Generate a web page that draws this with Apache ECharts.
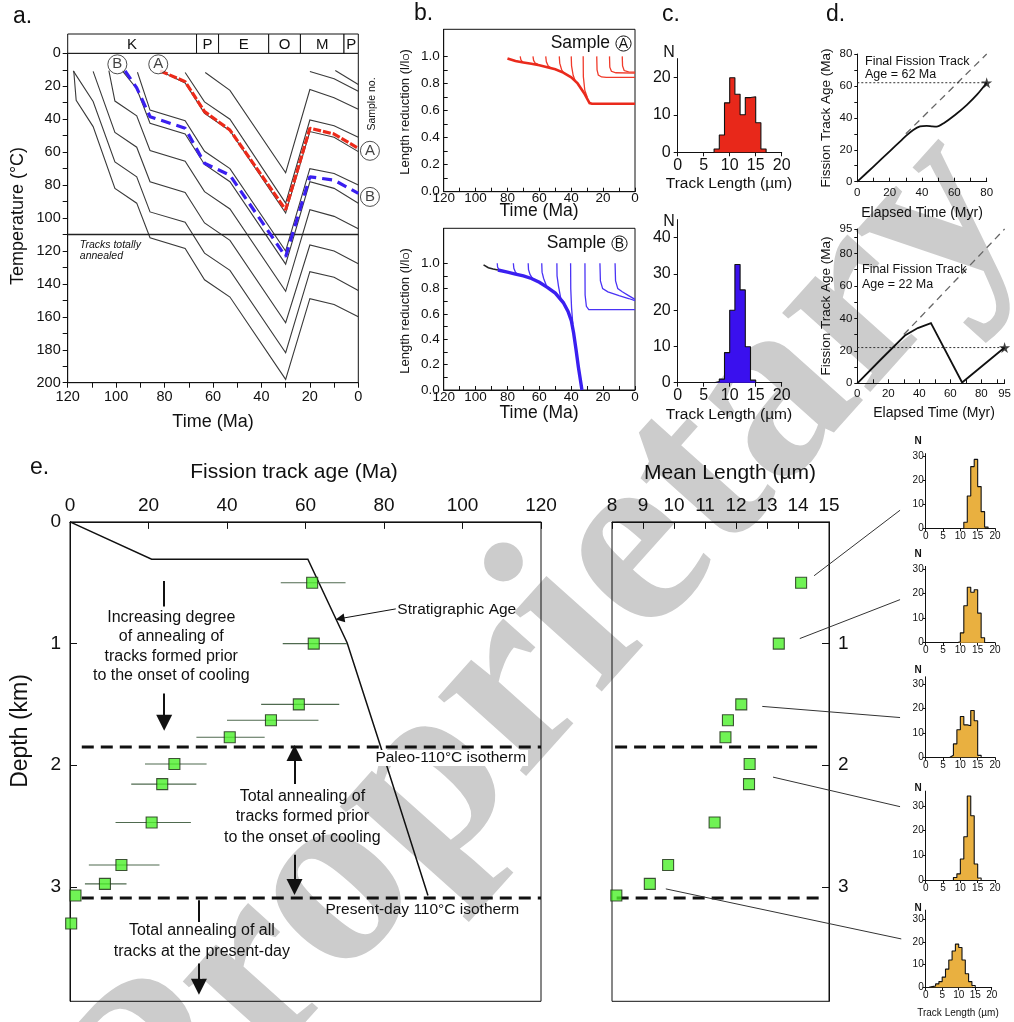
<!DOCTYPE html>
<html>
<head>
<meta charset="utf-8">
<title>Fission track thermochronology</title>
<script src="https://cdn.jsdelivr.net/npm/echarts@6/dist/echarts.min.js"></script>
<style>
  html, body { margin: 0; padding: 0; background: #ffffff; }
  #chart { width: 1014px; height: 1022px; }
</style>
</head>
<body>
<div id="chart"></div>
<script>
const FONT = '"Liberation Sans", Arial, Helvetica, sans-serif';
const SERIF = '"Liberation Serif", "DejaVu Serif", serif';
const INK = '#111111';

/* ---------- a. temperature histories of the buried strata (Ma, °C) ---------- */
const stratUnits  = ['K', 'P', 'E', 'O', 'M', 'P'];
const stratBounds = [120, 66.8, 57.7, 37.0, 23.9, 5.9, 0];
const burialPaths = [
  [[63.2,11.7],[53,22.5],[30,72.5],[20,22],[10,27],[0,34]],
  [[71.5,11.7],[63.5,29.5],[53,40],[30,91],[20,40.5],[10,44],[0,51]],
  [[81.8,10.7],[71.5,18],[63.5,36.5],[53,47],[30,97],[20,47.5],[10,51],[0,59.7]],
  [[91.2,11.5],[86,34.5],[71.5,41],[63.5,59.5],[53,70],[30,120],[20,70],[10,73],[0,80]],
  [[97.5,10.5],[91.5,21.5],[86,42.5],[71.5,49],[63.5,67.5],[53,78],[30,128],[20,78],[10,82],[0,91]],
  [[103,10.5],[100.5,29],[91.5,38],[86,59],[71.5,65.5],[63.5,84],[53,94.5],[30,144.5],[20,95],[10,99],[0,106.5]],
  [[109.5,11],[100.5,48],[91.5,57],[86,78],[71.5,84.5],[63.5,103],[53,113.6],[30,163.6],[20,116.4],[10,120],[0,127.8]],
  [[117.7,10.7],[109.5,29.3],[100.5,66],[91.5,75],[86,96.3],[71.5,102.5],[63.5,121.3],[53,131.8],[30,181.8],[20,132.6],[10,136],[0,144]],
  [[117.5,10.7],[116.5,28.5],[109.5,44.5],[100.5,82],[91.5,91],[86,112],[71.5,118.5],[63.5,137.5],[53,148],[30,198],[20,149],[10,152.5],[0,160]],
  [[20,11],[10,15.5],[0,23]],
  [[9.5,10.5],[0,19]]
];
const pathA = [[81.8,10.7],[71.5,17.2],[63.5,35.4],[53,46.6],[30,95],[20,45.5],[10,49],[0,57.7]];
const pathB = [[96.3,10.7],[91.5,21],[86,38.5],[71.5,45.5],[63.5,66.8],[53,74],[30,123.5],[20,75],[10,77],[0,85]];
const totalAnnealT = 110;
const sampleTags = [[99.5,6.7,'B'],[82.6,6.7,'A'],[-4.8,59.2,'A'],[-4.8,87.2,'B']];
const timeTicksA  = [0,10,20,30,40,50,60,70,80,90,100,110,120];
const timeLabelsA = [0,20,40,60,80,100,120];
const tempTicks   = [0,10,20,30,40,50,60,70,80,90,100,110,120,130,140,150,160,170,180,190,200];
const tempLabels  = [0,20,40,60,80,100,120,140,160,180,200];

/* ---------- b. length reduction l/l0 of track generations ---------- */
const reductionA = [[80,0.985],[75,0.965],[70,0.955],[65,0.945],[60,0.935],[55,0.92],[50,0.905],[45,0.88],[40,0.845],[36,0.8],[32,0.73],[28.5,0.655],[27,0.65],[0,0.65]];
const branchesA = [
  [[72,1.0],[71.6,0.975],[70.5,0.958]],
  [[64,1.0],[63.6,0.97],[62.6,0.95],[61,0.942]],
  [[56,1.0],[55.6,0.96],[54.5,0.93],[53,0.915]],
  [[47.5,1.0],[47.2,0.95],[46,0.9],[44.5,0.875]],
  [[40,1.0],[39.8,0.93],[38.8,0.86],[37.5,0.82]],
  [[32.5,1.0],[32.4,0.85],[31.5,0.75],[30,0.7]],
  [[24,1.0],[23.8,0.9],[23,0.862],[21,0.848],[18,0.845],[0,0.845]],
  [[16,1.0],[15.8,0.92],[14.8,0.89],[12,0.879],[0,0.876]],
  [[8,1.0],[7.8,0.93],[6.8,0.895],[4,0.886],[0,0.884]]
];
const priorB = [[95,0.987],[92,0.965],[89,0.955],[86,0.947]];
const reductionB = [[86,0.947],[80,0.93],[75,0.915],[70,0.9],[65,0.88],[60,0.85],[55,0.81],[50,0.765],[45,0.69],[42,0.62],[40,0.55],[38.5,0.45],[37,0.32],[35.5,0.18],[34,0.06],[33.3,0]];
const branchesB = [
  [[86.4,1.0],[86.2,0.97],[85.5,0.952]],
  [[76.3,1.0],[76,0.96],[75,0.93],[73.5,0.91]],
  [[67,1.0],[66.8,0.95],[65.8,0.91],[64,0.875]],
  [[58.5,1.0],[58.3,0.93],[57.3,0.88],[55.5,0.82]],
  [[49,1.0],[48.9,0.9],[48,0.82],[46.5,0.72]],
  [[40.4,1.0],[40.3,0.8],[39.8,0.65],[39,0.52]],
  [[31.4,1.0],[31.3,0.75],[30.5,0.66],[29,0.635],[0,0.635]],
  [[22,1.0],[21.7,0.86],[20.3,0.8],[17,0.775],[10,0.745],[4,0.722],[0,0.705]],
  [[12.5,1.0],[12.2,0.86],[10.8,0.8],[8,0.775],[4,0.745],[0,0.715]]
];
const lrTicks  = [0,0.1,0.2,0.3,0.4,0.5,0.6,0.7,0.8,0.9,1.0];
const lrLabels = [0,0.2,0.4,0.6,0.8,1.0];

/* ---------- c. track length distributions, samples A and B (1 µm bins) ---------- */
const histAStart = 7;
const histA = [0.9, 4.6, 13.2, 19.9, 15.5, 10.0, 14.6, 14.8, 7.9, 0.9];
const histBStart = 7;
const histB = [0.3, 1.0, 8.3, 20.0, 32.6, 25.6, 9.9, 0.7];
const lenTicksC = [0,5,10,15,20];
const nTicksCA = [0,10,20];
const nTicksCB = [0,10,20,30,40];

/* ---------- d. fission track age vs elapsed time ---------- */
const ageCurveA = [[0,0],[10,9.5],[20,19],[27.4,26.1],[31,29.5],[34.6,32.4],[38.8,34.6],[42.9,35],[46,34.7],[49.1,34.5],[53.2,36.5],[60.4,41.8],[67.6,48],[74,54.5],[80,62]];
const ageCurveB = [[0,0],[15,14.5],[30.7,29.4],[39,34],[47.5,37],[48.3,36.5],[67.6,0.5],[95,22]];
const finalAgeA = 62;
const finalAgeB = 22;
const noAnnealA = [[30,30],[80,80]];
const noAnnealB = [[30,30],[95,95]];
const elapsedTicksA = [0,10,20,30,40,50,60,70,80];
const elapsedLabelsA = [0,20,40,60,80];
const elapsedTicksB = [0,10,20,30,40,50,60,70,80,90,95];
const elapsedLabelsB = [0,20,40,60,80,95];

/* ---------- e. borehole profile: ages and mean lengths with depth ---------- */
const sampleDepth = [0.5, 1.0, 1.5, 1.63, 1.77, 1.99, 2.155, 2.47, 2.82, 2.975, 3.07, 3.30];
const ftAge       = [61.7, 62.1, 58.3, 51.2, 40.7, 26.6, 23.5, 20.8, 13.1, 8.9, 1.4, 0.3];
const ageLow      = [53.7, 54.2, 48.7, 40.0, 32.2, 19.1, 15.6, 11.6, 4.8, 3.8];
const ageHigh     = [70.2, 70.6, 68.6, 63.3, 49.6, 34.8, 32.2, 30.8, 22.8, 14.4];
const meanLength  = [14.1, 13.38, 12.17, 11.74, 11.66, 12.44, 12.42, 11.31, 9.81, 9.22, 8.14];
const stratAge    = [[0,0],[20.8,0.307],[60.6,0.307],[70.6,0.993],[79.1,1.842],[91.2,3.07]];
const paleoIso    = 1.85;
const presentIso  = 3.09;
const ageTicksE   = [0,20,40,60,80,100,120];
const depthTicks  = [0,1,2,3];
const depthLabelsR = [1,2,3];
const lenTicksE   = [8,9,10,11,12,13,14,15];

/* length distributions beside the profile (1 µm bins) */
const histD1Start = 11; const histD1 = [2.5, 13.4, 25.6, 28.6, 17.3, 6.9, 0.5];
const histD2Start = 9;  const histD2 = [0.4, 4.0, 15.0, 22.5, 20.5, 21.5, 12.0, 2.0];
const histD3Start = 7;  const histD3 = [0.8, 5.5, 11.3, 16.7, 13.3, 12.9, 19.2, 15.0, 0.8];
const histD4Start = 8;  const histD4 = [1.0, 2.5, 8.5, 17.5, 34.0, 26.0, 6.5, 0.8];
const histD5Start = 1;  const histD5 = [0.3, 0.6, 1.5, 2.5, 4.5, 8.0, 12.0, 16.0, 19.0, 17.5, 12.0, 6.0, 2.5, 0.8];
const nTicksD = [0,10,20,30];

/* ---------------- layout ---------------- */
const boxed = { show: true, borderColor: INK, borderWidth: 1, backgroundColor: 'transparent' };
const grids = [
  Object.assign({ left: 67.7, top: 53.3, width: 290.6, height: 329.4 }, boxed),   // 0 a
  { left: 67.7, top: 34, width: 290.6, height: 19.3 },                              // 1 a, stage bar
  Object.assign({ left: 443.7, top: 29.3, width: 191.3, height: 162.4 }, boxed),  // 2 b top
  Object.assign({ left: 443.7, top: 228.3, width: 191.3, height: 161.7 }, boxed), // 3 b bottom
  { left: 677.7, top: 58.6, width: 104, height: 93.7 },                             // 4 c top
  { left: 677.7, top: 219.6, width: 104, height: 163.1 },                           // 5 c bottom
  { left: 857.3, top: 54, width: 129.4, height: 127.7 },                            // 6 d top
  { left: 857.3, top: 229, width: 152.7, height: 154.3 },                           // 7 d bottom
  Object.assign({ left: 70, top: 521.9, width: 471, height: 479.4 }, boxed),      // 8 e ages
  Object.assign({ left: 612, top: 521.9, width: 217, height: 479.4 }, boxed),     // 9 e lengths
  { left: 925.7, top: 453.6, width: 69.3, height: 74.7 },                           // 10
  { left: 925.7, top: 566.4, width: 69.3, height: 76.3 },                           // 11
  { left: 925.7, top: 676.8, width: 69.3, height: 80.5 },                           // 12
  { left: 925.7, top: 791.1, width: 69.3, height: 88.9 },                           // 13
  { left: 925.7, top: 910.1, width: 66,   height: 77.2 }                            // 14
];
const histMax = [31, 31, 33, 36, 34];

function ax(g, min, max, o = {}) {
  return {
    type: 'value', gridIndex: g, min, max,
    inverse: !!o.inverse, position: o.position, show: o.show !== false,
    splitLine: { show: false },
    axisLine: { show: o.line !== false, onZero: false, lineStyle: { color: INK, width: 1 } },
    axisTick: { show: !!o.ticks, inside: !!o.inside, length: o.tickLen || 4,
                customValues: o.ticks, lineStyle: { color: INK, width: 1 } },
    axisLabel: { show: !!o.labels, customValues: o.labels, formatter: o.fmt,
                 color: INK, fontFamily: FONT, fontSize: o.fs || 14,
                 margin: o.margin === undefined ? 5 : o.margin }
  };
}

const xAxis = [
  ax(0, 0, 120, { inverse: true, ticks: timeTicksA, labels: timeLabelsA, fs: 14.5, margin: 7, tickLen: 5 }),
  ax(1, 0, 120, { inverse: true, show: false }),
  ax(2, 0, 120, { inverse: true, ticks: timeTicksA, labels: timeLabelsA, inside: true, fs: 13.5, margin: 0 }),
  ax(3, 0, 120, { inverse: true, ticks: timeTicksA, labels: timeLabelsA, inside: true, fs: 13.5, margin: 0 }),
  ax(4, 0, 20, { ticks: lenTicksC, labels: lenTicksC, fs: 16, margin: 5 }),
  ax(5, 0, 20, { ticks: lenTicksC, labels: lenTicksC, fs: 16, margin: 5 }),
  ax(6, 0, 80, { ticks: elapsedTicksA, labels: elapsedLabelsA, inside: true, fs: 11.5, margin: 5 }),
  ax(7, 0, 95, { ticks: elapsedTicksB, labels: elapsedLabelsB, inside: true, fs: 11.5, margin: 5 }),
  ax(8, 0, 120, { position: 'top', ticks: ageTicksE, labels: ageTicksE, inside: true, tickLen: 7, fs: 19, margin: 7 }),
  ax(9, 8, 15, { position: 'top', ticks: lenTicksE, labels: lenTicksE, inside: true, tickLen: 7, fs: 19, margin: 7 }),
  ax(10, 0, 20, { ticks: lenTicksC, labels: lenTicksC, fs: 10, margin: 3, tickLen: 3 }),
  ax(11, 0, 20, { ticks: lenTicksC, labels: lenTicksC, fs: 10, margin: 3, tickLen: 3 }),
  ax(12, 0, 20, { ticks: lenTicksC, labels: lenTicksC, fs: 10, margin: 3, tickLen: 3 }),
  ax(13, 0, 20, { ticks: lenTicksC, labels: lenTicksC, fs: 10, margin: 3, tickLen: 3 }),
  ax(14, 0, 20, { ticks: lenTicksC, labels: lenTicksC, fs: 10, margin: 3, tickLen: 3 })
];
const yAxis = [
  ax(0, 0, 200, { inverse: true, ticks: tempTicks, labels: tempLabels, fs: 14.5, margin: 7, tickLen: 5 }),
  ax(1, 0, 1, { show: false }),
  ax(2, 0, 1.2, { ticks: lrTicks, labels: lrLabels, inside: true, fs: 13.5, margin: 4, fmt: v => v.toFixed(1) }),
  ax(3, 0, 1.276, { ticks: lrTicks, labels: lrLabels, inside: true, fs: 13.5, margin: 4, fmt: v => v.toFixed(1) }),
  ax(4, 0, 25, { ticks: nTicksCA, labels: nTicksCA, fs: 16, margin: 7 }),
  ax(5, 0, 45, { ticks: nTicksCB, labels: nTicksCB, fs: 16, margin: 7 }),
  ax(6, 0, 80, { ticks: elapsedTicksA, labels: elapsedLabelsA, fs: 11.5, margin: 5, tickLen: 3 }),
  ax(7, 0, 95, { ticks: elapsedTicksB, labels: elapsedLabelsB, fs: 11.5, margin: 5, tickLen: 3 }),
  ax(8, 0, 3.94, { inverse: true, ticks: depthTicks, labels: depthTicks, inside: true, tickLen: 7, fs: 19, margin: 9 }),
  ax(9, 0, 3.94, { inverse: true, position: 'right', ticks: depthTicks, labels: depthLabelsR, inside: true, tickLen: 7, fs: 19, margin: 9 }),
  ax(10, 0, histMax[0], { ticks: nTicksD, labels: nTicksD, fs: 10, margin: 2, tickLen: 3 }),
  ax(11, 0, histMax[1], { ticks: nTicksD, labels: nTicksD, fs: 10, margin: 2, tickLen: 3 }),
  ax(12, 0, histMax[2], { ticks: nTicksD, labels: nTicksD, fs: 10, margin: 2, tickLen: 3 }),
  ax(13, 0, histMax[3], { ticks: nTicksD, labels: nTicksD, fs: 10, margin: 2, tickLen: 3 }),
  ax(14, 0, histMax[4], { ticks: nTicksD, labels: nTicksD, fs: 10, margin: 2, tickLen: 3 })
];

/* ---------------- series ---------------- */
const series = [];
function line(g, data, color, width, extra = {}) {
  const s = Object.assign({
    type: 'line', xAxisIndex: g, yAxisIndex: g, data, symbol: 'none', silent: true,
    animation: false, clip: false, z: 3,
    lineStyle: { color, width, type: 'solid', cap: 'butt', join: 'miter' }
  }, extra);
  if (extra.lineStyle) s.lineStyle = Object.assign({ color, width }, extra.lineStyle);
  series.push(s);
  return s;
}
function histSeries(g, start, counts, fill) {
  const pts = [[start, 0]];
  counts.forEach((c, i) => pts.push([start + i, c]));
  pts.push([start + counts.length, 0]);
  series.push({
    type: 'line', xAxisIndex: g, yAxisIndex: g, data: pts, step: 'end', symbol: 'none',
    silent: true, animation: false, z: 3,
    lineStyle: { color: INK, width: 1.1 },
    areaStyle: { color: fill, opacity: 1 }
  });
}

// a.
burialPaths.forEach(p => line(0, p, '#3a3a3a', 1.1));
line(0, [[120, totalAnnealT], [0, totalAnnealT]], '#222', 1.6);
line(0, pathA, '#ec2a1a', 3.2, { lineStyle: { type: [8, 2] }, z: 4 });
line(0, pathB, '#3a1ff0', 3.2, { lineStyle: { type: [10, 6] }, z: 4 });
series.push({
  type: 'scatter', xAxisIndex: 0, yAxisIndex: 0, data: sampleTags, clip: false,
  symbol: 'circle', symbolSize: 19, silent: true, animation: false, z: 6,
  itemStyle: { color: '#ffffff', borderColor: '#222', borderWidth: 1 },
  label: { show: true, position: 'inside', formatter: p => p.value[2],
           fontFamily: FONT, fontSize: 15, color: INK }
});
series.push({
  type: 'custom', xAxisIndex: 1, yAxisIndex: 1, silent: true, animation: false,
  data: stratUnits.map((u, i) => [stratBounds[i], stratBounds[i + 1]]),
  encode: { x: [0, 1] },
  renderItem: (params, api) => {
    const p0 = api.coord([api.value(0), 1]);
    const p1 = api.coord([api.value(1), 0]);
    const x = Math.min(p0[0], p1[0]), w = Math.abs(p1[0] - p0[0]);
    const y = Math.min(p0[1], p1[1]), h = Math.abs(p1[1] - p0[1]);
    return { type: 'group', children: [
      { type: 'rect', shape: { x, y, width: w, height: h }, style: { fill: '#fff', stroke: INK, lineWidth: 1 } },
      { type: 'text', style: { text: stratUnits[params.dataIndex], x: x + w / 2, y: y + h / 2 + 1,
        align: 'center', verticalAlign: 'middle', fontFamily: FONT, fontSize: 15, fill: INK } }
    ] };
  }
});

// b.
branchesA.forEach(p => line(2, p, '#f03a2a', 1.3));
line(2, reductionA, '#ea2a1c', 2.6);
line(3, priorB, '#222', 1.6);
branchesB.forEach(p => line(3, p, '#4a33f5', 1.3));
line(3, reductionB, '#3a1ff0', 3.4);

// c.
histSeries(4, histAStart, histA, '#e8281a');
histSeries(5, histBStart, histB, '#3a10ee');

// d.
const starPath = 'path://M50,0 L61,35 L98,35 L68,57 L79,91 L50,70 L21,91 L32,57 L2,35 L39,35 Z';
line(6, noAnnealA, '#666', 1.3, { lineStyle: { type: [7, 5] } });
line(6, [[0, finalAgeA], [80, finalAgeA]], '#333', 1, { lineStyle: { type: [2, 2] } });
line(6, ageCurveA, INK, 1.8, { smooth: 0.25 });
line(7, noAnnealB, '#666', 1.3, { lineStyle: { type: [7, 5] } });
line(7, [[0, finalAgeB], [95, finalAgeB]], '#333', 1, { lineStyle: { type: [2, 2] } });
line(7, ageCurveB, INK, 1.8);
series.push({
  type: 'scatter', xAxisIndex: 6, yAxisIndex: 6, data: [[80, finalAgeA]], symbol: starPath,
  symbolSize: 11, clip: false, silent: true, animation: false, z: 6, itemStyle: { color: INK }
});
series.push({
  type: 'scatter', xAxisIndex: 7, yAxisIndex: 7, data: [[95, finalAgeB]], symbol: starPath,
  symbolSize: 11, clip: false, silent: true, animation: false, z: 6, itemStyle: { color: INK }
});

// e. ages
const arrowStyle = { color: INK, width: 2, type: 'solid' };
line(8, stratAge, INK, 1.5, {
  markLine: {
    silent: true, animation: false, symbol: ['none', 'triangle'], symbolSize: 16,
    label: { show: false }, lineStyle: arrowStyle,
    data: [
      [{ coord: [24, 1.41] }, { coord: [24, 1.65] }],
      [{ coord: [57.2, 2.155] }, { coord: [57.2, 1.90] }],
      [{ coord: [57.2, 2.736] }, { coord: [57.2, 3.0] }],
      [{ coord: [32.85, 3.63] }, { coord: [32.85, 3.82] }],
      [{ coord: [24, 0.486], symbol: 'none' }, { coord: [24, 0.695], symbol: 'none' }],
      [{ coord: [32.85, 3.109], symbol: 'none' }, { coord: [32.85, 3.288], symbol: 'none' }],
      [{ coord: [83, 0.715], lineStyle: { width: 1 } }, { coord: [68.8, 0.795], symbolSize: 9, lineStyle: { width: 1 } }]
    ]
  }
});
const isoDash = { type: [12, 7] };
line(8, [[3, paleoIso], [120, paleoIso]], INK, 3, { lineStyle: isoDash, z: 4 });
line(8, [[3, presentIso], [120, presentIso]], INK, 3, { lineStyle: isoDash, z: 4 });
series.push({
  type: 'custom', xAxisIndex: 8, yAxisIndex: 8, silent: true, animation: false, z: 5,
  data: ageLow.map((lo, i) => [lo, ageHigh[i], sampleDepth[i]]),
  encode: { x: [0, 1], y: 2 },
  renderItem: (params, api) => {
    const a = api.coord([api.value(0), api.value(2)]);
    const b = api.coord([api.value(1), api.value(2)]);
    return { type: 'line', shape: { x1: a[0], y1: a[1], x2: b[0], y2: b[1] },
             style: { stroke: '#4f6a4f', lineWidth: 1.1 } };
  }
});
const squareStyle = { color: '#4cf02a', borderColor: '#1c2a14', borderWidth: 1.1 };
series.push({
  type: 'scatter', xAxisIndex: 8, yAxisIndex: 8, data: ftAge.map((a, i) => [a, sampleDepth[i]]),
  symbol: 'rect', symbolSize: 11, clip: false, silent: true, animation: false, z: 7, itemStyle: squareStyle
});

// e. mean lengths
line(9, [[8.1, paleoIso], [14.75, paleoIso]], INK, 3, { lineStyle: isoDash, z: 4 });
line(9, [[8.15, presentIso], [14.75, presentIso]], INK, 3, { lineStyle: isoDash, z: 4 });
series.push({
  type: 'scatter', xAxisIndex: 9, yAxisIndex: 9, data: meanLength.map((m, i) => [m, sampleDepth[i]]),
  symbol: 'rect', symbolSize: 11, clip: false, silent: true, animation: false, z: 7, itemStyle: squareStyle
});

// length distributions beside the profile
const orange = '#e9b040';
histSeries(10, histD1Start, histD1, orange);
histSeries(11, histD2Start, histD2, orange);
histSeries(12, histD3Start, histD3, orange);
histSeries(13, histD4Start, histD4, orange);
histSeries(14, histD5Start, histD5, orange);

const chart = echarts.init(document.getElementById('chart'), null, { renderer: 'canvas', width: 1014, height: 1022 });
chart.setOption({ animation: false, grid: grids, xAxis, yAxis, series });

/* ---------------- text and connectors ---------------- */
const px = (g, v) => chart.convertToPixel({ gridIndex: g }, v);
function txt(text, x, y, o = {}) {
  return {
    type: 'text', x, y, rotation: o.rot || 0, z: 50, silent: true,
    style: {
      text, fill: o.color || INK, fontFamily: o.family || FONT, fontSize: o.fs || 14,
      fontStyle: o.italic ? 'italic' : 'normal', fontWeight: o.bold ? 'bold' : 'normal',
      align: o.align || 'center', verticalAlign: o.va || 'middle',
      backgroundColor: o.bg, padding: o.pad, rich: o.rich
    }
  };
}
function circled(letter, cx, cy, r) {
  return [
    { type: 'circle', shape: { cx, cy, r }, z: 50, silent: true, style: { fill: '#fff', stroke: INK, lineWidth: 1 } },
    txt(letter, cx, cy + 0.5, { fs: 14 })
  ];
}
const V = Math.PI / 2;
const G = [];

// watermark behind everything
G.push({ type: 'text', x: 545, y: 655, rotation: 0.84, z: -10, silent: true,
  style: { text: 'Proprietary', fill: '#cccccc', fontFamily: SERIF, fontWeight: 'bold', fontSize: 258,
           align: 'center', verticalAlign: 'middle' } });

// panel letters
G.push(txt('a.', 13, 17, { fs: 23, align: 'left' }));
G.push(txt('b.', 414, 14, { fs: 23, align: 'left' }));
G.push(txt('c.', 662, 15, { fs: 23, align: 'left' }));
G.push(txt('d.', 826, 15, { fs: 23, align: 'left' }));
G.push(txt('e.', 30, 468, { fs: 23, align: 'left' }));

// a.
G.push(txt('Temperature (°C)', 18, 216, { fs: 18, rot: V }));
G.push(txt('Time (Ma)', 213, 422, { fs: 18 }));
{
  const p = px(0, [115, totalAnnealT]);
  G.push(txt('Tracks totally', p[0], p[1] + 11, { fs: 10.5, italic: true, align: 'left' }));
  G.push(txt('annealed', p[0], p[1] + 22, { fs: 10.5, italic: true, align: 'left' }));
}
G.push(txt('Sample no.', 372, 104, { fs: 10.5, rot: V }));

// b.
const lrRich = { s: { fontSize: 9, verticalAlign: 'bottom', fontFamily: FONT, fill: INK } };
G.push(txt('Length reduction (l/l{s|O})', 405, 112, { fs: 13, rot: V, rich: lrRich }));
G.push(txt('Length reduction (l/l{s|O})', 405, 311, { fs: 13, rot: V, rich: lrRich }));
G.push(txt('Time (Ma)', 539, 211, { fs: 17.5 }));
G.push(txt('Time (Ma)', 539, 413, { fs: 17.5 }));
G.push(txt('Sample', 610, 43.5, { fs: 17.5, align: 'right' }));
G.push(...circled('A', 623.5, 43.5, 7.6));
G.push(txt('Sample', 606, 243.5, { fs: 17.5, align: 'right' }));
G.push(...circled('B', 619.5, 243.5, 7.6));

// c.
G.push(txt('N', 669, 53, { fs: 16 }));
G.push(txt('N', 669, 222, { fs: 16 }));
G.push(txt('Track Length (µm)', 729, 184, { fs: 15.5 }));
G.push(txt('Track Length (µm)', 729, 415, { fs: 15.5 }));

// d.
G.push(txt('Fission Track Age (Ma)', 826, 118, { fs: 13.5, rot: V }));
G.push(txt('Fission Track Age (Ma)', 826, 306, { fs: 13.5, rot: V }));
G.push(txt('Elapsed Time (Myr)', 922, 213, { fs: 14 }));
G.push(txt('Elapsed Time (Myr)', 934, 413, { fs: 14 }));
G.push(txt('Final Fission Track', 865, 62, { fs: 12.5, align: 'left' }));
G.push(txt('Age = ' + finalAgeA + ' Ma', 865, 75, { fs: 12.5, align: 'left' }));
G.push(txt('Final Fission Track', 862, 270, { fs: 12.5, align: 'left' }));
G.push(txt('Age = ' + finalAgeB + ' Ma', 862, 285, { fs: 12.5, align: 'left' }));

// e.
G.push(txt('Fission track age (Ma)', 294, 472, { fs: 21 }));
G.push(txt('Depth (km)', 21, 731, { fs: 23, rot: V }));
G.push(txt('Mean Length (µm)', 730, 473, { fs: 21 }));
function block(lines, cx, depths, fs) {
  lines.forEach((s, i) => { const p = px(8, [cx, depths[i]]); G.push(txt(s, p[0], p[1], { fs })); });
}
block(['Increasing degree', 'of annealing of', 'tracks formed prior', 'to the onset of cooling'], 25.8, [0.784, 0.939, 1.103, 1.267], 16);
block(['Total annealing of', 'tracks formed prior', 'to the onset of cooling'], 59.2, [2.259, 2.423, 2.593], 16);
block(['Total annealing of all', 'tracks at the present-day'], 33.6, [3.362, 3.535], 16);
{
  let p = px(8, [83.4, 0.724]);
  G.push(txt('Stratigraphic Age', p[0], p[1], { fs: 15.5, align: 'left' }));
  p = px(8, [77.3, 1.94]);
  G.push(txt('Paleo-110°C isotherm', p[0], p[1], { fs: 15.5, align: 'left', bg: '#ffffff', pad: [0, 2, 0, 2] }));
  p = px(8, [65.1, 3.19]);
  G.push(txt('Present-day 110°C isotherm', p[0], p[1], { fs: 15.5, align: 'left' }));
}

// small histograms: N labels, caption and leader lines
const nLabelY = [441.7, 554.3, 670, 788.3, 908.3];
nLabelY.forEach(y => G.push(txt('N', 918, y, { fs: 10, bold: true })));
G.push(txt('Track Length (µm)', 958, 1013, { fs: 10 }));
const leaders = [
  { i: 0, dx: 13, dy: -7, h: 10, n: 7.5 },
  { i: 1, dx: 21, dy: -5, h: 11, n: 17.5 },
  { i: 2, dx: 21, dy: 2, h: 12, n: 16.3 },
  { i: 6, dx: 24, dy: -7, h: 13, n: 29.7 },
  { i: 9, dx: 16, dy: 5, h: 14, n: 21.3 }
];
leaders.forEach(L => {
  const a = px(9, [meanLength[L.i], sampleDepth[L.i]]);
  const b = px(L.h, [-7.4, L.n]);
  G.push({ type: 'line', z: 40, silent: true,
    shape: { x1: a[0] + L.dx, y1: a[1] + L.dy, x2: b[0], y2: b[1] },
    style: { stroke: '#333', lineWidth: 1 } });
});

chart.setOption({ graphic: G });
</script>
</body>
</html>
